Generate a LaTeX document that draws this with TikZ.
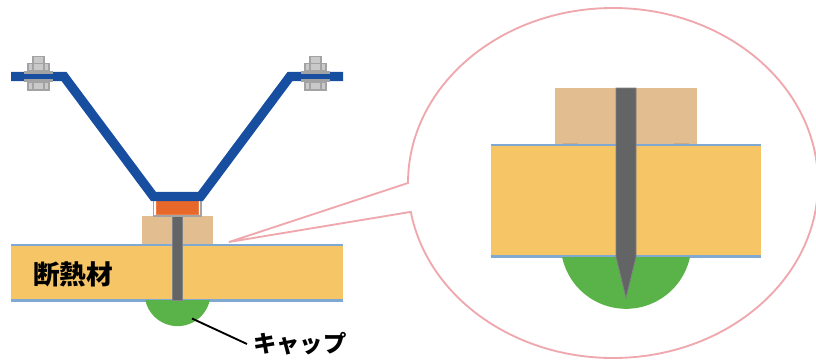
\documentclass[tikz,border=0pt]{standalone}
\usepackage{fontspec}
\newfontfamily\jpfont{Noto Sans CJK JP}
\usetikzlibrary{positioning}
\definecolor{foamc}{HTML}{F6C566}
\definecolor{edgec}{HTML}{7FA9D3}
\definecolor{padc}{HTML}{E2BD8F}
\definecolor{screwc}{HTML}{636466}
\definecolor{capc}{HTML}{5AB349}
\definecolor{bracketc}{HTML}{174EA0}
\definecolor{spacerc}{HTML}{E8682A}
\definecolor{balloonc}{HTML}{EFA8AE}
\definecolor{boltc}{HTML}{C9C9C9}
\definecolor{boltd}{HTML}{A3A3A3}
\begin{document}
\begin{tikzpicture}[
        x=0.75pt, y=-0.75pt,
        foam/.style = {fill=foamc, draw=none},
        edgeline/.style = {draw=edgec, line width=1.7pt},
        padblock/.style = {fill=padc, draw=none},
        screw/.style = {fill=screwc, draw=screwc!80!white, line width=0.5pt},
        capfill/.style = {fill=capc, draw=none},
        bracket/.style = {draw=bracketc, line width=7pt, miter limit=10},
        boltpart/.style = {fill=boltc, draw=boltd, line width=1pt},
        washer/.style = {fill=boltd, draw=none},
        jptext/.style = {text=black, inner sep=0pt}
    ]
    \useasboundingbox (0,0) rectangle (816,361);
    % balloon
    \draw[balloonc, line width=1.4pt, fill=white, line join=miter] (229,242) -- (408,183) arc[start angle=180, end angle=530.5, x radius=205, y radius=175] -- cycle;
    % left: insulation and pad
    \fill[padblock] (142,216) rectangle (213,245);
    \fill[foam] (11,245) rectangle (343,300);
    \draw[edgeline] (11,245) -- (343,245);
    \draw[edgeline] (11,300.5) -- (343,300.5);
    \fill[capfill] (209.8,300) arc[start angle=12, end angle=168, radius=33] -- cycle;
    \draw[screw] (172.5,216) rectangle (182.5,300);
    % spacer under the bracket
    \draw[boltd, fill=white, line width=0.8pt] (153.5,198) rectangle (201,216);
    \draw[spacerc!85!white, fill=spacerc, line width=0.5pt] (156,200) rectangle (198,214);
    % bolts
    \foreach \bx in {38.5,315.5} {
        \draw[boltpart] (\bx-5.5,56.5) rectangle (\bx+5.5,63.5);
        \draw[boltpart] (\bx-10.5,63.5) rectangle (\bx+10.5,71);
        \draw[boltpart] (\bx-5.5,63.5) rectangle (\bx+5.5,71);
        \draw[boltpart] (\bx-10.5,82) rectangle (\bx+10.5,90);
        \draw[boltpart] (\bx-5.5,82) rectangle (\bx+5.5,90);
    }
    \draw[bracket] (11,76.5) -- (64,76.5) -- (153.5,196.5) -- (200.5,196.5) -- (290,76.5) -- (343,76.5);
    \foreach \bx in {38.5,315.5} {
        \fill[washer] (\bx-14.5,71) rectangle (\bx+14.5,74);
        \fill[washer] (\bx-14.5,79) rectangle (\bx+14.5,82);
    }
    % right: enlarged view
    \fill[padblock] (555,88) rectangle (697,145);
    \fill[padc!90!black] (563,142.5) rectangle (578,145);
    \fill[padc!90!black] (674,142.5) rectangle (689,145);
    \fill[foam] (491,145) rectangle (761,256);
    \draw[edgeline] (491,145) -- (761,145);
    \draw[edgeline] (491,256.5) -- (761,256.5);
    \fill[capfill] (690,257) arc[start angle=12, end angle=168, radius=65.4] -- cycle;
    \draw[screw] (616,88) -- (636,88) -- (636,257) -- (626,298) -- (616,257) -- cycle;
    % labels
    \node[jptext, font=\jpfont\bfseries\fontsize{20}{20}\selectfont] (foamlabel) at (73,274) {断熱材};
    \node[jptext, font=\jpfont\bfseries\fontsize{17.5}{17.5}\selectfont, anchor=west] (caplabel) at (253,344) {キャップ};
    \coordinate (captip) at (192,318.5);
    \coordinate (capend) at ([xshift=-4.5pt]caplabel.west);
    \draw[black, line width=1.4pt] (captip) -- (capend);
\end{tikzpicture}
\end{document}
